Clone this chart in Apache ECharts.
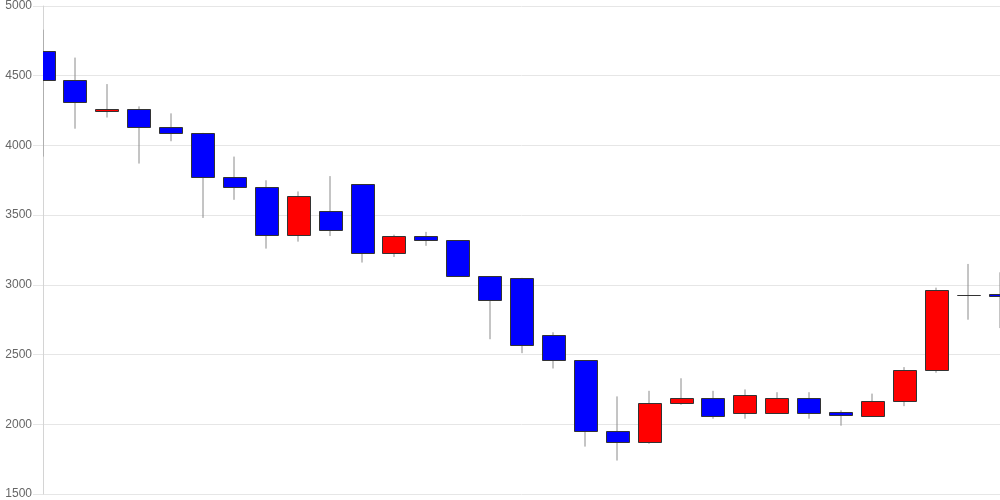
<!DOCTYPE html>
<html>
<head>
<meta charset="utf-8">
<script src="https://cdn.jsdelivr.net/npm/echarts@6/dist/echarts.min.js"></script>
<style>
  html, body { margin: 0; padding: 0; background: #ffffff; }
  #chart { width: 1000px; height: 500px; }
</style>
</head>
<body>
<div id="chart"></div>
<script>
const categories = ['1','2','3','4','5','6','7','8','9','10','11','12','13','14','15','16','17','18','19','20','21','22','23','24','25','26','27','28','29','30','31'];
const openValues  = [4680,4470,4250,4260,4130,4090,3770,3700,3360,3530,3720,3230,3350,3320,3060,3050,2640,2460,1950,1870,2150,2190,2080,2080,2190,2085,2060,2170,2390,2930,2935];
const closeValues = [4470,4310,4260,4130,4090,3770,3700,3360,3640,3390,3230,3350,3320,3060,2890,2570,2460,1950,1870,2150,2190,2060,2210,2190,2080,2065,2170,2390,2960,2930,2920];
const lowValues   = [3920,4120,4200,3870,4030,3480,3610,3260,3310,3350,3160,3200,3280,3060,2610,2510,2400,1840,1740,1860,2140,2040,2040,2080,2040,1990,2060,2130,2370,2750,2690];
const highValues  = [4830,4630,4440,4280,4230,4090,3920,3750,3670,3780,3720,3360,3380,3320,3060,3050,2660,2460,2200,2240,2330,2240,2250,2230,2230,2100,2220,2410,2980,3150,3090];
const yMin = 1500, yMax = 5000, yStep = 500;

const ohlc = categories.map((c, i) => [i, openValues[i], closeValues[i], lowValues[i], highValues[i]]);

const UP = '#ff0000', DOWN = '#0000ff', BORDER = '#333333', WICK = '#8a8a8a';
const BODY_W = 23;

function renderCandle(params, api) {
  const idx = api.value(0);
  const o = api.value(1), c = api.value(2), l = api.value(3), h = api.value(4);
  const pO = api.coord([idx, o]);
  const pC = api.coord([idx, c]);
  const pL = api.coord([idx, l]);
  const pH = api.coord([idx, h]);
  const cx = pO[0];
  const wx = Math.round(cx);
  const left = Math.round(cx - BODY_W / 2) + 0.5;
  const top = Math.round(Math.min(pO[1], pC[1])) + 0.5;
  const bottom = Math.round(Math.max(pO[1], pC[1])) + 0.5;
  const fill = c >= o ? UP : DOWN;
  return {
    type: 'group',
    children: [
      { type: 'line', shape: { x1: wx, y1: pH[1], x2: wx, y2: pL[1] },
        style: { stroke: WICK, lineWidth: 1 } },
      { type: 'rect', shape: { x: left, y: top, width: BODY_W, height: bottom - top },
        style: { fill: fill, stroke: BORDER, lineWidth: 1 } }
    ]
  };
}

const chart = echarts.init(document.getElementById('chart'), null, { renderer: 'canvas' });
chart.setOption({
  animation: false,
  backgroundColor: '#ffffff',
  grid: { left: 43, right: 0, top: 6, bottom: 6, containLabel: false },
  xAxis: {
    type: 'category',
    data: categories,
    boundaryGap: false,
    axisLine: { show: false },
    axisTick: { show: false },
    axisLabel: { show: false },
    splitLine: { show: false }
  },
  yAxis: {
    type: 'value',
    min: yMin,
    max: yMax,
    interval: yStep,
    axisLine: { show: true, lineStyle: { color: '#d4d4d4', width: 1 } },
    axisTick: { show: true, length: 10, lineStyle: { color: '#e6e6e6' } },
    axisLabel: { color: '#666666', fontSize: 12, fontFamily: 'Liberation Sans, Arial, sans-serif', margin: 11,
                 formatter: v => String(v) },
    splitLine: { show: true, lineStyle: { color: '#e6e6e6', width: 1 } }
  },
  series: [{
    type: 'custom',
    clip: true,
    data: ohlc,
    encode: { x: 0, y: [1, 2, 3, 4] },
    renderItem: renderCandle
  }]
});
</script>
</body>
</html>
